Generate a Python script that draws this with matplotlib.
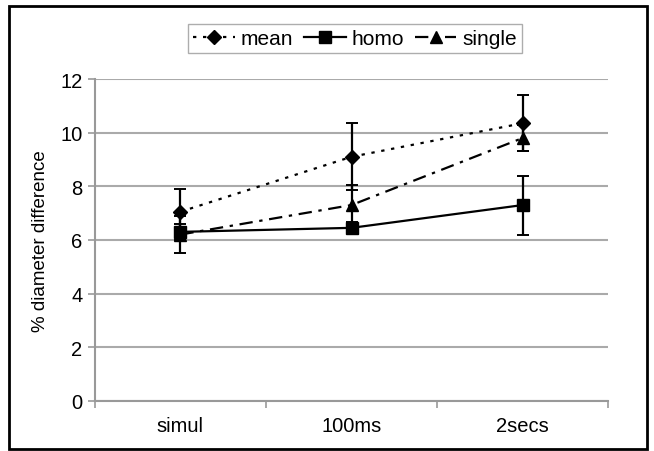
import numpy as np
import matplotlib
matplotlib.use('Agg')
import matplotlib.pyplot as plt
from matplotlib.patches import Rectangle
from matplotlib.lines import Line2D

plt.rcParams['font.family'] = ['Liberation Sans', 'DejaVu Sans']

categories = ['simul', '100ms', '2secs']
mean_vals = [7.05, 9.1, 10.35]
mean_err = [0.85, 1.25, 1.05]
homo_vals = [6.3, 6.45, 7.3]
homo_err = [0.3, 0.2, 1.1]
single_vals = [6.2, 7.3, 9.8]
single_err = [0.7, 0.75, 0.5]
yticks = [0, 2, 4, 6, 8, 10, 12]

series = [
    ('mean', mean_vals, mean_err, 'D', 7, (0, (1.5, 3))),
    ('homo', homo_vals, homo_err, 's', 9, '-'),
    ('single', single_vals, single_err, '^', 8, (0, (6, 3, 1.5, 3))),
]

fig = plt.figure(figsize=(6.54, 4.52), dpi=100)
ax = fig.add_axes([0.145, 0.111, 0.785, 0.712])
x = np.arange(len(categories))

handles = []
for name, vals, err, mk, ms, ls in series:
    ax.errorbar(x, vals, yerr=err, color='black', marker=mk, markersize=ms,
                linestyle=ls, linewidth=1.6, capsize=4, elinewidth=1.6,
                capthick=1.4, zorder=3)
    handles.append(Line2D([], [], color='black', marker=mk, markersize=ms,
                          linestyle=ls, linewidth=1.6, label=name))

ax.set_xlim(-0.5, 2.5)
ax.set_ylim(0, 12)
ax.set_yticks(yticks)
ax.set_yticklabels([str(v) for v in yticks], fontsize=14.5)
ax.set_xticks(x)
ax.set_xticklabels(categories, fontsize=14.5)
ax.tick_params(axis='x', length=0, pad=11)
ax.set_xticks([-0.5, 0.5, 1.5, 2.5], minor=True)
ax.tick_params(axis='x', which='minor', length=5, color='#999999', width=1.2)
ax.tick_params(axis='y', length=5, color='#999999', width=1.2, pad=4)
ax.grid(axis='y', color='#aaaaaa', linewidth=1.5)
ax.set_axisbelow(True)
for side in ['top', 'right']:
    ax.spines[side].set_visible(False)
for side in ['left', 'bottom']:
    ax.spines[side].set_color('#999999')
    ax.spines[side].set_linewidth(1.5)
ax.set_ylabel('% diameter difference', fontsize=13.5, labelpad=8)

leg = fig.legend(handles=handles, loc='center', bbox_to_anchor=(0.543, 0.912),
                 ncol=3, fontsize=15, frameon=True, fancybox=False,
                 edgecolor='#999999', handlelength=2.0, handletextpad=0.3,
                 columnspacing=0.5, borderpad=0.25, borderaxespad=0)
leg.get_frame().set_linewidth(1.0)

fig.patches.append(Rectangle((0.013, 0.005), 0.977, 0.98, transform=fig.transFigure,
                             fill=False, edgecolor='black', linewidth=2))

fig.savefig('out.png', dpi=100)
